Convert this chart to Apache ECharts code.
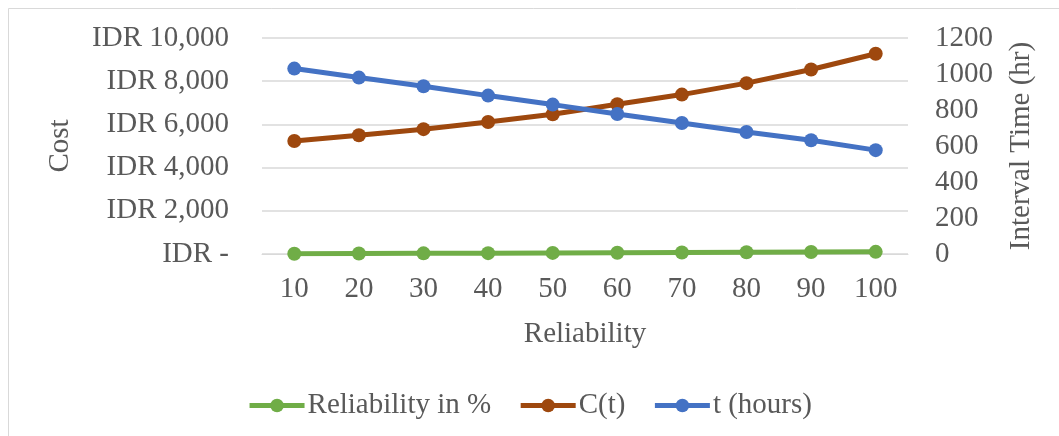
<!DOCTYPE html>
<html>
<head>
<meta charset="utf-8">
<script src="https://cdn.jsdelivr.net/npm/echarts@6/dist/echarts.min.js"></script>
<style>
  html, body { margin: 0; padding: 0; background: #ffffff; }
  #chart { width: 1059px; height: 436px; }
</style>
</head>
<body>
<div id="chart"></div>
<script>
// Reliability levels on the category axis
const reliability = ['10', '20', '30', '40', '50', '60', '70', '80', '90', '100'];
// Reliability in % (left axis)
const reliabilityPct = [10, 20, 30, 40, 50, 60, 70, 80, 90, 100];
// C(t) cost in IDR (left axis)
const costC = [5230, 5500, 5780, 6110, 6470, 6930, 7380, 7910, 8540, 9270];
// t in hours (right axis)
const intervalHours = [1030, 980, 932, 880, 830, 778, 728, 678, 632, 577];

const FONT = '"Liberation Serif", "Times New Roman", serif';
const TEXT = '#595959';
const GRID = '#d9d9d9';
const FS = 29;

function idr(v) {
  if (v === 0) return 'IDR -';
  return 'IDR ' + v.toLocaleString('en-US');
}

const chart = echarts.init(document.getElementById('chart'), null, { renderer: 'canvas' });

chart.setOption({
  backgroundColor: '#ffffff',
  animation: false,
  textStyle: { fontFamily: FONT, color: TEXT },
  graphic: [
    { type: 'line', silent: true, shape: { x1: 8.5, y1: 8.5, x2: 1059, y2: 8.5 }, style: { stroke: '#d9d9d9', lineWidth: 1 } },
    { type: 'line', silent: true, shape: { x1: 8.5, y1: 8.5, x2: 8.5, y2: 436 }, style: { stroke: '#d9d9d9', lineWidth: 1 } }
  ],
  grid: { left: 262, right: 151, top: 38, bottom: 182 },
  legend: {
    bottom: 11,
    left: 'center',
    itemWidth: 55,
    itemHeight: 17,
    itemGap: 27,
    lineStyle: { width: 5 },
    textStyle: { fontFamily: FONT, fontSize: FS, color: TEXT, padding: [0, 0, 0, -2] },
    data: ['Reliability in %', 'C(t)', 't (hours)']
  },
  xAxis: {
    type: 'category',
    data: reliability,
    boundaryGap: true,
    name: 'Reliability',
    nameLocation: 'middle',
    nameGap: 66,
    nameTextStyle: { fontFamily: FONT, fontSize: FS, color: TEXT },
    axisLine: { show: true, lineStyle: { color: GRID, width: 1 } },
    axisTick: { show: false },
    axisLabel: { fontFamily: FONT, fontSize: FS, color: TEXT, margin: 21 },
    splitLine: { show: false }
  },
  yAxis: [
    {
      type: 'value',
      min: 0,
      max: 10000,
      interval: 2000,
      name: 'Cost',
      nameLocation: 'middle',
      nameRotate: 90,
      nameGap: 187,
      nameTextStyle: { fontFamily: FONT, fontSize: FS, color: TEXT },
      axisLine: { show: false },
      axisTick: { show: false },
      axisLabel: { fontFamily: FONT, fontSize: FS, color: TEXT, margin: 33, formatter: idr },
      splitLine: { show: true, lineStyle: { color: GRID, width: 1.5 } }
    },
    {
      type: 'value',
      min: 0,
      max: 1200,
      interval: 200,
      name: 'Interval Time (hr)',
      nameLocation: 'middle',
      nameRotate: 90,
      nameGap: 99,
      nameTextStyle: { fontFamily: FONT, fontSize: FS, color: TEXT },
      axisLine: { show: false },
      axisTick: { show: false },
      axisLabel: { fontFamily: FONT, fontSize: FS, color: TEXT, margin: 27, formatter: function (v) { return String(v); } },
      splitLine: { show: false }
    }
  ],
  series: [
    {
      name: 'Reliability in %',
      type: 'line',
      yAxisIndex: 0,
      data: reliabilityPct,
      symbol: 'circle',
      symbolSize: 14,
      lineStyle: { color: '#70ad47', width: 5 },
      itemStyle: { color: '#70ad47' }
    },
    {
      name: 'C(t)',
      type: 'line',
      yAxisIndex: 0,
      data: costC,
      symbol: 'circle',
      symbolSize: 14,
      lineStyle: { color: '#9e480e', width: 5 },
      itemStyle: { color: '#9e480e' }
    },
    {
      name: 't (hours)',
      type: 'line',
      yAxisIndex: 1,
      data: intervalHours,
      symbol: 'circle',
      symbolSize: 14,
      lineStyle: { color: '#4472c4', width: 5 },
      itemStyle: { color: '#4472c4' }
    }
  ]
});
</script>
</body>
</html>
